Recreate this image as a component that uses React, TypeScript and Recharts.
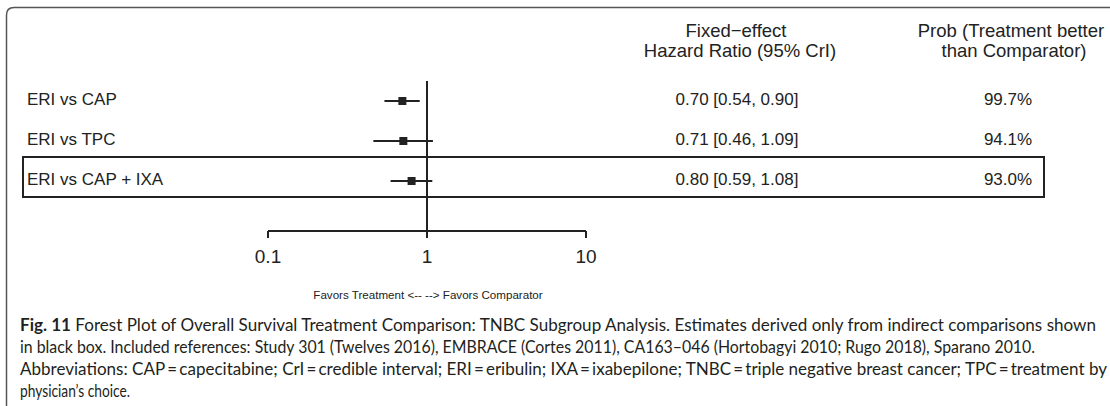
import React from "react";
import { ScatterChart, Scatter, XAxis, YAxis, ErrorBar, ReferenceLine } from "recharts";

const comparisons = ["ERI vs CAP", "ERI vs TPC", "ERI vs CAP + IXA"];
const hazardRatio = [0.7, 0.71, 0.8];
const ciLower = [0.54, 0.46, 0.59];
const ciUpper = [0.9, 1.09, 1.08];
const probBetter = [99.7, 94.1, 93.0];
const xTicks = [0.1, 1, 10];
const rowTicks = [1, 2, 3];

const captionLines = [
  "Forest Plot of Overall Survival Treatment Comparison: TNBC Subgroup Analysis. Estimates derived only from indirect comparisons shown",
  "in black box. Included references: Study 301 (Twelves 2016), EMBRACE (Cortes 2011), CA163\u2013046 (Hortobagyi 2010; Rugo 2018), Sparano 2010.",
  "Abbreviations: CAP\u2009=\u2009capecitabine; CrI\u2009=\u2009credible interval; ERI\u2009=\u2009eribulin; IXA\u2009=\u2009ixabepilone; TNBC\u2009=\u2009triple negative breast cancer; TPC\u2009=\u2009treatment by",
  "physician\u2019s choice.",
];

const data = comparisons.map((name, i) => ({
  name,
  row: i + 1,
  hr: hazardRatio[i],
  err: [hazardRatio[i] - ciLower[i], ciUpper[i] - hazardRatio[i]],
}));

const INK = "#222";
const SANS = "'Liberation Sans', Arial, Helvetica, sans-serif";

function RowTick(props: any) {
  const { y, payload } = props;
  const i = payload.value - 1;
  if (i < 0 || i >= comparisons.length) return null;
  const fmt = (v: number) => v.toFixed(2);
  return (
    <g fontFamily={SANS} fontSize={17} fill={INK}>
      <text x={27} y={y + 4} textAnchor="start">{comparisons[i]}</text>
      <text x={737} y={y + 4} textAnchor="middle">
        {`${fmt(hazardRatio[i])} [${fmt(ciLower[i])}, ${fmt(ciUpper[i])}]`}
      </text>
      <text x={1008} y={y + 4} textAnchor="middle">{`${probBetter[i].toFixed(1)}%`}</text>
    </g>
  );
}

function Square(props: any) {
  const { cx, cy } = props;
  return <rect x={cx - 4} y={cy - 4} width={8} height={8} fill={INK} />;
}

export default function App() {
  return (
    <div style={{ position: "absolute", left: 0, top: 0, width: 1110, height: 406, background: "#fff" }}>
      <ScatterChart
        width={1110}
        height={406}
        margin={{ top: 81, right: 524, bottom: 145, left: 208 }}
      >
        <XAxis
          type="number"
          dataKey="hr"
          scale="log"
          domain={[0.1, 10]}
          ticks={xTicks}
          allowDataOverflow
          tickFormatter={(v: number) => String(v)}
          tick={{ fontSize: 19, fill: INK, fontFamily: SANS }}
          tickSize={7}
          tickMargin={12}
          tickLine={{ stroke: INK, strokeWidth: 2 }}
          axisLine={{ stroke: INK, strokeWidth: 2 }}
          height={30}
        />
        <YAxis
          type="number"
          dataKey="row"
          domain={[0.5, 4.25]}
          reversed
          ticks={rowTicks}
          width={60}
          axisLine={false}
          tickLine={false}
          tick={<RowTick />}
          allowDataOverflow
        />
        <ReferenceLine x={1} stroke={INK} strokeWidth={2} />
        <Scatter data={data} shape={<Square />} isAnimationActive={false}>
          <ErrorBar dataKey="err" direction="x" width={0} stroke={INK} strokeWidth={2} isAnimationActive={false} />
        </Scatter>
      </ScatterChart>
      <svg
        width={1110}
        height={406}
        style={{ position: "absolute", left: 0, top: 0, pointerEvents: "none" }}
      >
        <path d="M6.5,406 L6.5,15 Q6.5,7.5 14,7.5 L1110,7.5" fill="none" stroke="#555" strokeWidth={1.5} />
        <rect x={23} y={157} width={1021} height={40} fill="none" stroke={INK} strokeWidth={2} />
        <g fontFamily={SANS} fontSize={18.5} fill={INK} textAnchor="middle">
          <text x={736} y={37}>{"Fixed\u2212effect"}</text>
          <text x={740} y={57}>Hazard Ratio (95% CrI)</text>
          <text x={1011} y={37}>Prob (Treatment better</text>
          <text x={1014} y={57}>than Comparator)</text>
        </g>
        <text x={428} y={299} fontFamily={SANS} fontSize={11.6} fill={INK} textAnchor="middle">
          {"Favors Treatment <-- --> Favors Comparator"}
        </text>
        <g fontFamily="Lato, 'Open Sans', sans-serif" fontSize={16.5} fill="#231f20">
          <text x={20} y={331} textLength={1076} lengthAdjust="spacingAndGlyphs">
            <tspan fontWeight="bold">Fig. 11</tspan> {captionLines[0]}
          </text>
          <text x={20} y={353} textLength={1015} lengthAdjust="spacingAndGlyphs">{captionLines[1]}</text>
          <text x={20} y={375} textLength={1087} lengthAdjust="spacingAndGlyphs">{captionLines[2]}</text>
          <text x={20} y={397} textLength={110} lengthAdjust="spacingAndGlyphs">{captionLines[3]}</text>
        </g>
      </svg>
    </div>
  );
}
